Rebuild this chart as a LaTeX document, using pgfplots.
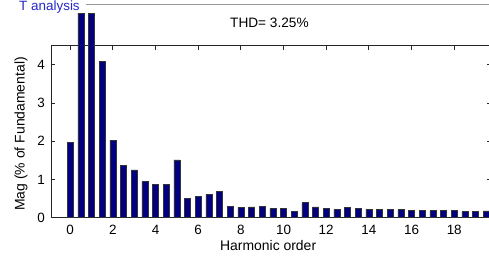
\documentclass[border=0pt]{standalone}
\usepackage{fontspec}
\setmainfont{Liberation Sans}
\usepackage{pgfplots}
\pgfplotsset{compat=1.18}
\definecolor{barnavy}{RGB}{0,0,128}
\definecolor{paneltxt}{RGB}{40,40,200}
\begin{document}
\begin{tikzpicture}
\clip (0,0) rectangle (489bp,258bp);
\begin{axis}[
  at={(51bp,40.3bp)}, anchor=south west,
  scale only axis, width=439.5bp, height=172bp,
  xmin=-0.9, xmax=19.7, ymin=0, ymax=4.5,
  clip=false,
  xtick={0,2,...,18}, ytick={0,1,2,3,4},
  tick align=inside, major tick length=4bp,
  xtick pos=both, ytick pos=both,
  axis line style={black!85, line width=0.8bp},
  tick style={black!85, line width=0.8bp},
  /pgf/number format/assume math mode=true,
  ticklabel style={font=\fontsize{13.5}{14}\selectfont, inner sep=0pt},
  xticklabel style={anchor=north, yshift=-7bp},
  yticklabel style={anchor=east, xshift=-6bp},
  xlabel={Harmonic order},
  ylabel={Mag (\% of Fundamental)},
  xlabel style={font=\fontsize{14}{16}\selectfont, at={(axis description cs:0.494,-0.1645)}, anchor=center},
  ylabel style={font=\fontsize{14}{16}\selectfont, at={(axis description cs:-0.068,0.487)}, anchor=center, rotate=0},
  title={THD= 3.25\%},
  title style={font=\fontsize{13.7}{16}\selectfont, at={(axis description cs:0.497,1.097)}, anchor=center},
]
% bars at 0.5 and 1 (fundamental) are clipped in the reference at about 5.35
\addplot[ybar, bar width=0.28, fill=barnavy, draw=black!80, line width=0.6bp] coordinates {
(0,1.98) (0.5,5.35) (1,5.35) (1.5,4.08) (2,2.03) (2.5,1.37) (3,1.25) (3.5,0.94)
(4,0.88) (4.5,0.88) (5,1.51) (5.5,0.50) (6,0.565) (6.5,0.62) (7,0.68) (7.5,0.30)
(8,0.27) (8.5,0.28) (9,0.30) (9.5,0.245) (10,0.245) (10.5,0.155) (11,0.39) (11.5,0.28)
(12,0.245) (12.5,0.21) (13,0.275) (13.5,0.245) (14,0.215) (14.5,0.215) (15,0.215) (15.5,0.215)
(16,0.185) (16.5,0.185) (17,0.185) (17.5,0.185) (18,0.185) (18.5,0.155) (19,0.155) (19.5,0.18)
};
\end{axis}
\draw[black!40, line width=0.8bp] (86bp,253.3bp) -- (489bp,253.3bp);
\node[paneltxt, anchor=base west, inner sep=0pt, font=\fontsize{13.5}{16}\selectfont] at (19bp,247.5bp) {T analysis};
\end{tikzpicture}
\end{document}
